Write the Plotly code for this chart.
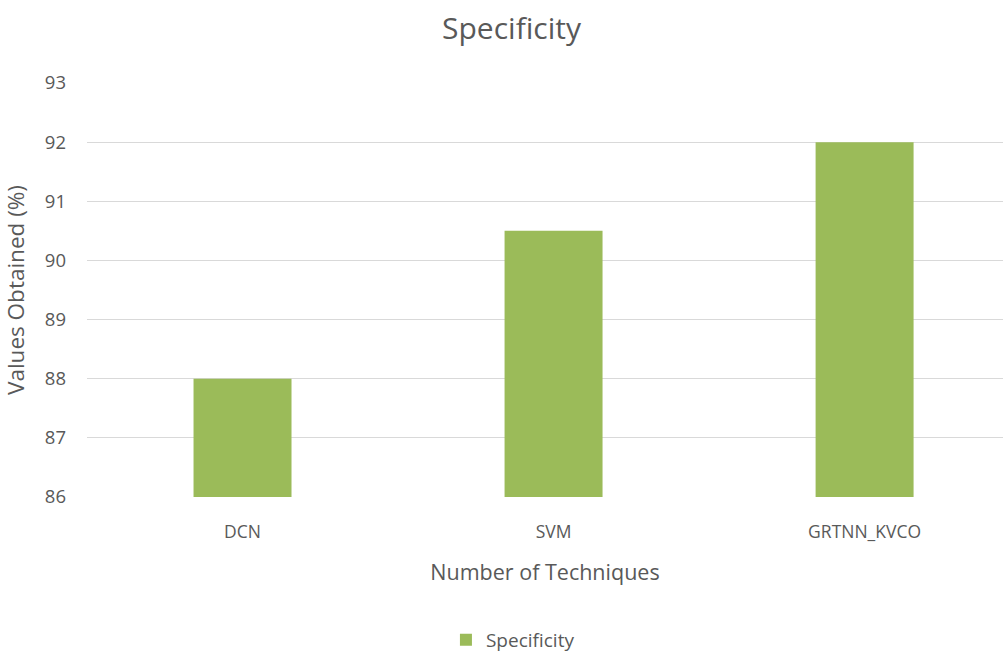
import plotly.graph_objects as go

techniques = ["DCN", "SVM", "GRTNN_KVCO"]
specificity = [88, 90.5, 92]
y_ticks = [86, 87, 88, 89, 90, 91, 92, 93]
AXIS_FLOOR = 86

FONT = "'Open Sans', Lato, sans-serif"
GREY = "#595959"

fig = go.Figure()
# bars rise from the axis floor
fig.add_trace(go.Bar(
    x=techniques,
    y=[v - AXIS_FLOOR for v in specificity],
    base=AXIS_FLOOR,
    name="Specificity",
    marker=dict(color="#9BBB59", line=dict(width=0)),
    hovertemplate="%{x}: %{customdata}<extra></extra>",
    customdata=specificity,
))

fig.update_layout(
    width=1003, height=662,
    margin=dict(l=87, r=0, t=83, b=165),
    paper_bgcolor="white", plot_bgcolor="white",
    font=dict(family=FONT, color=GREY),
    title=dict(text="Specificity", x=0.51, xanchor="center", y=0.957, yanchor="middle",
               font=dict(size=30, color=GREY, family=FONT)),
    bargap=0.685,
    showlegend=True,
    legend=dict(orientation="h", x=0.465, xanchor="center", y=-0.345, yanchor="middle",
                font=dict(size=19, color=GREY), itemwidth=30),
    xaxis=dict(
        title=dict(text="Number of Techniques", font=dict(size=21.5, color=GREY), standoff=23),
        tickfont=dict(size=17.5, color=GREY),
        range=[-0.5, 2.445],
        showgrid=False, showline=False, ticks="", ticklabelstandoff=22,
    ),
    yaxis=dict(
        title=dict(text="Values Obtained (%)", font=dict(size=22.5, color=GREY), standoff=14),
        range=[86, 93], tickvals=y_ticks, ticktext=[str(t) for t in y_ticks],
        tickfont=dict(size=18.5, color=GREY),
        showgrid=True, gridcolor="#D9D9D9", gridwidth=1.3,
        zeroline=False, showline=False, ticks="", ticklabelstandoff=20,
    ),
)

fig.write_html("out.html")
